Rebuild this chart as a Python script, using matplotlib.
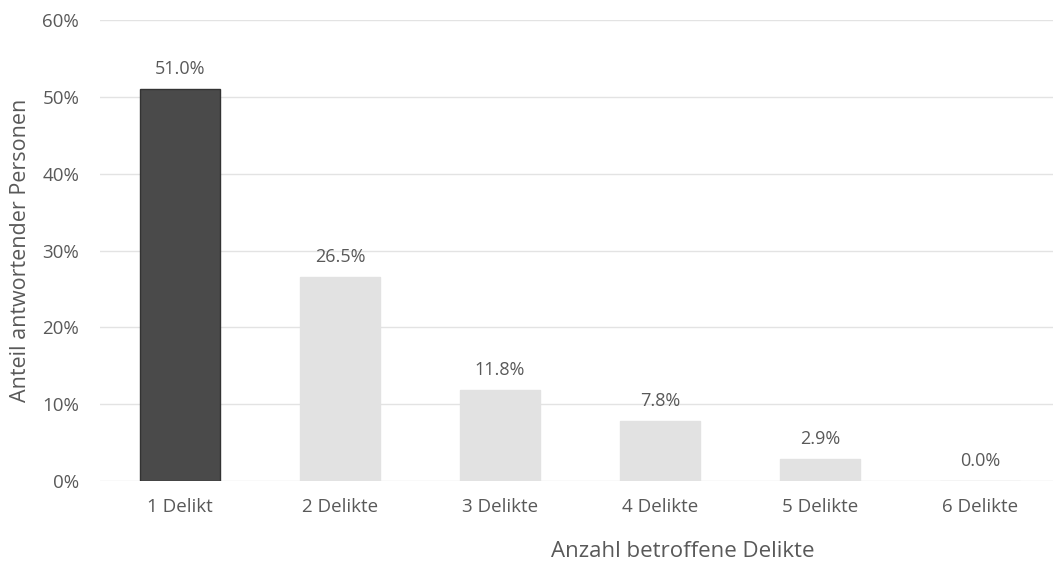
import matplotlib.pyplot as plt
import numpy as np

categories = ['1 Delikt', '2 Delikte', '3 Delikte', '4 Delikte', '5 Delikte', '6 Delikte']
shares = [51.0, 26.5, 11.8, 7.8, 2.9, 0.0]
yticks = [0, 10, 20, 30, 40, 50, 60]

plt.rcParams['font.family'] = ['Open Sans', 'DejaVu Sans']
text_col = '#595959'

fig = plt.figure(figsize=(10.53, 5.73), dpi=100)
ax = fig.add_axes([100 / 1053, 1 - 481 / 573, 960 / 1053, 461 / 573])

x = np.arange(len(categories))
colors = ['#4a4a4a'] + ['#e2e2e2'] * (len(categories) - 1)
edges = ['#333333'] + ['#e2e2e2'] * (len(categories) - 1)
bars = ax.bar(x, shares, width=0.5, color=colors, edgecolor=edges, linewidth=1, zorder=2)

for b, v in zip(bars, shares):
    ax.annotate(f'{v:.1f}%', (b.get_x() + b.get_width() / 2, v),
                xytext=(0, 8), textcoords='offset points',
                ha='center', va='bottom', fontsize=13, color=text_col)

ax.set_xlim(-0.5, len(categories) - 0.5)
ax.set_ylim(0, 60)
ax.set_yticks(yticks)
ax.set_yticklabels([f'{t}%' for t in yticks])
ax.set_xticks(x)
ax.set_xticklabels(categories)
ax.tick_params(length=0, labelsize=13.5, labelcolor=text_col)
ax.tick_params(axis='x', pad=12)
ax.tick_params(axis='y', pad=15)
ax.grid(axis='y', color='#e3e3e3', linewidth=1, zorder=0)
for s in ax.spines.values():
    s.set_visible(False)

ax.set_ylabel('Anteil antwortender Personen', fontsize=15.5, color=text_col)
ax.yaxis.set_label_coords(-0.072, 0.5)
ax.set_xlabel('Anzahl betroffene Delikte', fontsize=16, color=text_col)
ax.xaxis.set_label_coords(0.607, -0.13)

fig.savefig('out.png', dpi=100)
